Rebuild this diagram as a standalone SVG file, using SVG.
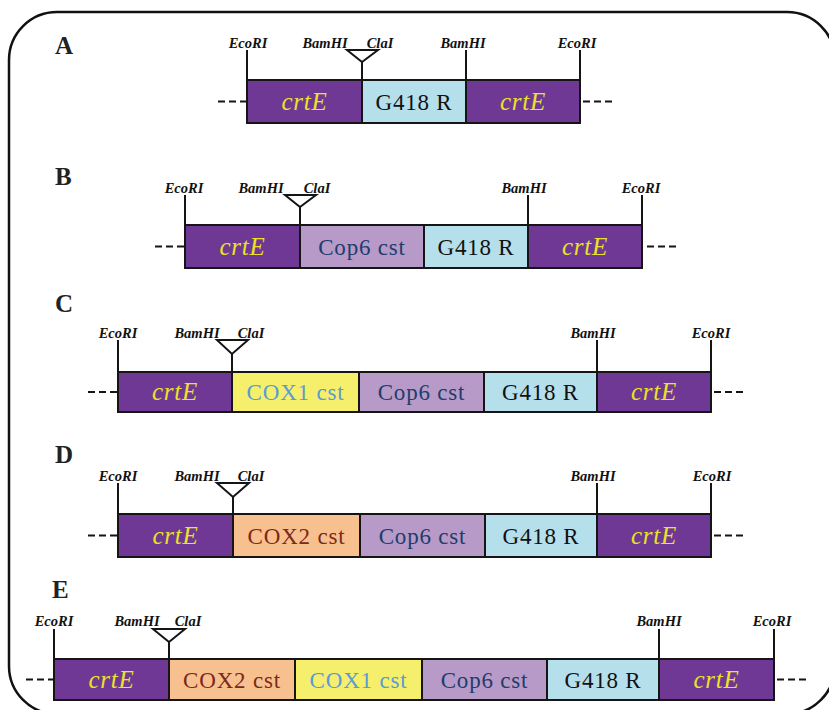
<svg xmlns="http://www.w3.org/2000/svg" width="829" height="710" viewBox="0 0 829 710">
<style>
.frame{fill:#fff;stroke:#111;stroke-width:2.5}
.seg{stroke:#151515;stroke-width:2}
.crt{fill:#6f3894}
.g418{fill:#b5dfea}
.cop{fill:#b79ac8}
.cox1{fill:#f6ef6b}
.cox2{fill:#f9c08f}
.t{font-family:"Liberation Serif","DejaVu Serif",serif;font-size:23px;letter-spacing:0.8px;text-anchor:middle}
.ti{font-family:"Liberation Serif","DejaVu Serif",serif;font-size:25px;letter-spacing:0.8px;font-style:italic;text-anchor:middle;fill:#ebe227}
.tk{stroke:#151515;stroke-width:2;fill:none}
.tri{stroke:#151515;stroke-width:2;fill:#fff}
.dash{stroke:#151515;stroke-width:2;stroke-dasharray:7 4;fill:none}
.en{font-family:"Liberation Serif",serif;font-size:14.5px;font-weight:bold;font-style:italic;text-anchor:middle;fill:#111}
.lab{font-family:"Liberation Serif",serif;font-size:25px;font-weight:bold;fill:#222}
</style>
<rect class="frame" x="9" y="12" width="826" height="702" rx="48"/>

<g id="rowA">
<text class="lab" x="55" y="54">A</text>
<g id="A-crtE1"><rect class="seg crt" x="247" y="80" width="115" height="43"/><text class="ti" x="304.5" y="110">crtE</text></g>
<g id="A-G418"><rect class="seg g418" x="362" y="80" width="104" height="43"/><text class="t" x="414" y="110" fill="#111">G418 R</text></g>
<g id="A-crtE2"><rect class="seg crt" x="466" y="80" width="114" height="43"/><text class="ti" x="523" y="110">crtE</text></g>
</g>

<g id="rowB">
<text class="lab" x="55" y="185">B</text>
<g id="B-crtE1"><rect class="seg crt" x="185" y="225" width="115" height="43"/><text class="ti" x="242.5" y="255">crtE</text></g>
<g id="B-Cop6"><rect class="seg cop" x="300" y="225" width="124" height="43"/><text class="t" x="362" y="255" fill="#1f3d6b">Cop6 cst</text></g>
<g id="B-G418"><rect class="seg g418" x="424" y="225" width="104" height="43"/><text class="t" x="476" y="255" fill="#111">G418 R</text></g>
<g id="B-crtE2"><rect class="seg crt" x="528" y="225" width="114" height="43"/><text class="ti" x="585" y="255">crtE</text></g>
</g>

<g id="rowC">
<text class="lab" x="55" y="312">C</text>
<g id="C-crtE1"><rect class="seg crt" x="118" y="372" width="114" height="40"/><text class="ti" x="175" y="400">crtE</text></g>
<g id="C-COX1"><rect class="seg cox1" x="232" y="372" width="127" height="40"/><text class="t" x="295.5" y="400" fill="#5b9bd5">COX1 cst</text></g>
<g id="C-Cop6"><rect class="seg cop" x="359" y="372" width="125" height="40"/><text class="t" x="421.5" y="400" fill="#1f3d6b">Cop6 cst</text></g>
<g id="C-G418"><rect class="seg g418" x="484" y="372" width="113" height="40"/><text class="t" x="540.5" y="400" fill="#111">G418 R</text></g>
<g id="C-crtE2"><rect class="seg crt" x="597" y="372" width="114" height="40"/><text class="ti" x="654" y="400">crtE</text></g>
</g>

<g id="rowD">
<text class="lab" x="55" y="463">D</text>
<g id="D-crtE1"><rect class="seg crt" x="118" y="514" width="115" height="43"/><text class="ti" x="175.5" y="544">crtE</text></g>
<g id="D-COX2"><rect class="seg cox2" x="233" y="514" width="127" height="43"/><text class="t" x="296.5" y="544" fill="#7a2a1a">COX2 cst</text></g>
<g id="D-Cop6"><rect class="seg cop" x="360" y="514" width="125" height="43"/><text class="t" x="422.5" y="544" fill="#1f3d6b">Cop6 cst</text></g>
<g id="D-G418"><rect class="seg g418" x="485" y="514" width="112" height="43"/><text class="t" x="541" y="544" fill="#111">G418 R</text></g>
<g id="D-crtE2"><rect class="seg crt" x="597" y="514" width="114" height="43"/><text class="ti" x="654" y="544">crtE</text></g>
</g>

<g id="rowE">
<text class="lab" x="52" y="598">E</text>
<g id="E-crtE1"><rect class="seg crt" x="54" y="659" width="115" height="41"/><text class="ti" x="111.5" y="688">crtE</text></g>
<g id="E-COX2"><rect class="seg cox2" x="169" y="659" width="126" height="41"/><text class="t" x="232" y="688" fill="#7a2a1a">COX2 cst</text></g>
<g id="E-COX1"><rect class="seg cox1" x="295" y="659" width="127" height="41"/><text class="t" x="358.5" y="688" fill="#5b9bd5">COX1 cst</text></g>
<g id="E-Cop6"><rect class="seg cop" x="422" y="659" width="125" height="41"/><text class="t" x="484.5" y="688" fill="#1f3d6b">Cop6 cst</text></g>
<g id="E-G418"><rect class="seg g418" x="547" y="659" width="112" height="41"/><text class="t" x="603" y="688" fill="#111">G418 R</text></g>
<g id="E-crtE2"><rect class="seg crt" x="659" y="659" width="115" height="41"/><text class="ti" x="716.5" y="688">crtE</text></g>
</g>

<g id="connectors">
<path class="dash" d="M218 101.5H247M583 101.5H616"/>
<path class="tk" d="M247 50V80M466 50V80M580 50V80M362 62V80"/>
<path class="tri" d="M347 50H378L362 62Z"/>
<path class="dash" d="M155 246.5H185M647 246.5H678"/>
<path class="tk" d="M185 195V225M528 195V225M642 195V225M300 207V225"/>
<path class="tri" d="M285 195H316L300 207Z"/>
<path class="dash" d="M88 392H118M714 392H746"/>
<path class="tk" d="M118 340V372M597 340V372M711 340V372M232 354V372"/>
<path class="tri" d="M217 340H248L232 354Z"/>
<path class="dash" d="M88 535.5H118M714 535.5H746"/>
<path class="tk" d="M118 483V514M597 483V514M711 483V514M233 497V514"/>
<path class="tri" d="M217 483H249L233 497Z"/>
<path class="dash" d="M26 679.5H54M777 679.5H809"/>
<path class="tk" d="M54 629V659M659 629V659M774 629V659M169 642V659"/>
<path class="tri" d="M153 629H185L169 642Z"/>
</g>

<g id="labels">
<text class="en" x="248" y="48">EcoRI</text>
<text class="en" x="325" y="48">BamHI</text>
<text class="en" x="380" y="48">ClaI</text>
<text class="en" x="463" y="48">BamHI</text>
<text class="en" x="577" y="48">EcoRI</text>

<text class="en" x="184" y="193">EcoRI</text>
<text class="en" x="261" y="193">BamHI</text>
<text class="en" x="317" y="193">ClaI</text>
<text class="en" x="524" y="193">BamHI</text>
<text class="en" x="641" y="193">EcoRI</text>

<text class="en" x="118" y="338">EcoRI</text>
<text class="en" x="197" y="338">BamHI</text>
<text class="en" x="251" y="338">ClaI</text>
<text class="en" x="593" y="338">BamHI</text>
<text class="en" x="711" y="338">EcoRI</text>

<text class="en" x="118" y="481">EcoRI</text>
<text class="en" x="197" y="481">BamHI</text>
<text class="en" x="251" y="481">ClaI</text>
<text class="en" x="593" y="481">BamHI</text>
<text class="en" x="712" y="481">EcoRI</text>

<text class="en" x="54" y="626">EcoRI</text>
<text class="en" x="137" y="626">BamHI</text>
<text class="en" x="188" y="626">ClaI</text>
<text class="en" x="659" y="626">BamHI</text>
<text class="en" x="772" y="626">EcoRI</text>
</g>
</svg>
